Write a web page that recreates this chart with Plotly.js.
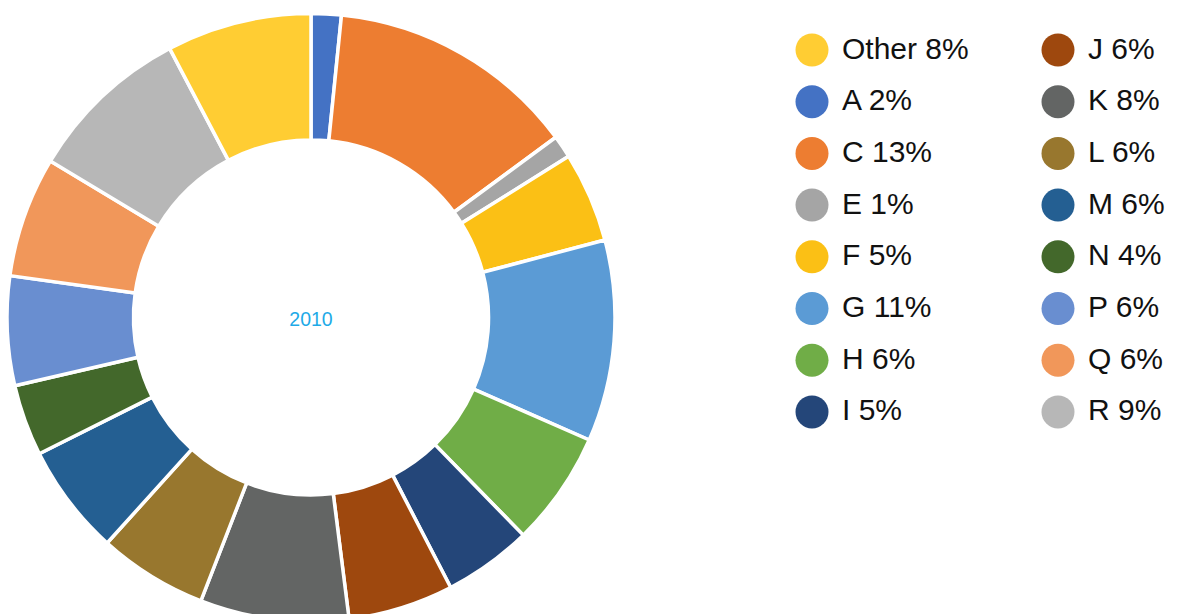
<!DOCTYPE html>
<html>
<head>
<meta charset="utf-8">
<script src="https://cdn.plot.ly/plotly-3.0.1.min.js"></script>
<style>
  html, body { margin: 0; padding: 0; background: #fff; overflow: hidden; }
  #chart { width: 1180px; height: 622px; }
</style>
</head>
<body>
<div id="chart"></div>
<script>
// slices, clockwise from 12 o'clock
const labels = ['A', 'C', 'E', 'F', 'G', 'H', 'I', 'J', 'K', 'L', 'M', 'N', 'P', 'Q', 'R', 'Other'];
const shares = [1.6, 13.3, 1.2, 4.8, 10.7, 6.1, 4.7, 5.6, 7.9, 5.8, 5.9, 3.8, 5.8, 6.4, 8.7, 7.7];
const colors = ['#4472C4', '#ED7D31', '#A5A5A5', '#FBC015', '#5B9BD5', '#70AD47', '#244679', '#9E480E',
                '#636564', '#98772E', '#245F92', '#43682B', '#698ED0', '#F1975A', '#B7B7B7', '#FFCD33'];

// legend, read top-to-bottom in two columns
const legendOrder = ['Other', 'A', 'C', 'E', 'F', 'G', 'H', 'I', 'J', 'K', 'L', 'M', 'N', 'P', 'Q', 'R'];
const legendPct = [8, 2, 13, 1, 5, 11, 6, 5, 6, 8, 6, 6, 4, 6, 6, 9];
const centerLabel = '2010';

// the pie runs a little past the bottom of the 614px window, so the plot is drawn taller
const W = 1180, H = 622;
const font = 'Liberation Sans, Arial, Helvetica, sans-serif';

const pie = {
  type: 'pie',
  labels: labels,
  values: shares,
  sort: false,
  direction: 'clockwise',
  rotation: 0,
  hole: 0.584,
  textinfo: 'none',
  hoverinfo: 'label+percent',
  showlegend: false,
  marker: { colors: colors, line: { color: '#ffffff', width: 3.5 } },
  domain: { x: [7 / W, 615 / W], y: [0, 1 - 13 / H] },
  title: { text: centerLabel, position: 'middle center', font: { family: font, size: 19.5, color: '#1EAAE7' } }
};

// legend swatches and texts, column-major
const rowsPerCol = 8;
const colX = [812, 1058];
const rowY0 = 50, rowStep = 51.7;
const lx = [], ly = [], lc = [], lt = [], tx = [], ty = [];
legendOrder.forEach(function (name, i) {
  const col = Math.floor(i / rowsPerCol), row = i % rowsPerCol;
  lx.push(colX[col]);
  ly.push(rowY0 + row * rowStep);
  lc.push(colors[labels.indexOf(name)]);
  lt.push(name + ' ' + legendPct[i] + '%');
  tx.push(colX[col] + 30);
  ty.push(rowY0 + row * rowStep + 1);
});

const swatches = {
  type: 'scatter', mode: 'markers', x: lx, y: ly,
  marker: { size: 33, color: lc, line: { width: 0 } },
  hoverinfo: 'skip', showlegend: false
};
const legendText = {
  type: 'scatter', mode: 'text', x: tx, y: ty, text: lt,
  textposition: 'middle right',
  textfont: { family: font, size: 30, color: '#111111' },
  hoverinfo: 'skip', showlegend: false
};

const layout = {
  width: W, height: H,
  margin: { l: 0, r: 0, t: 0, b: 0 },
  paper_bgcolor: '#ffffff', plot_bgcolor: 'rgba(0,0,0,0)',
  showlegend: false,
  xaxis: { range: [0, W], visible: false, fixedrange: true },
  yaxis: { range: [H, 0], visible: false, fixedrange: true },
  font: { family: font }
};

Plotly.newPlot('chart', [pie, swatches, legendText], layout, { displayModeBar: false, staticPlot: true });
</script>
</body>
</html>
